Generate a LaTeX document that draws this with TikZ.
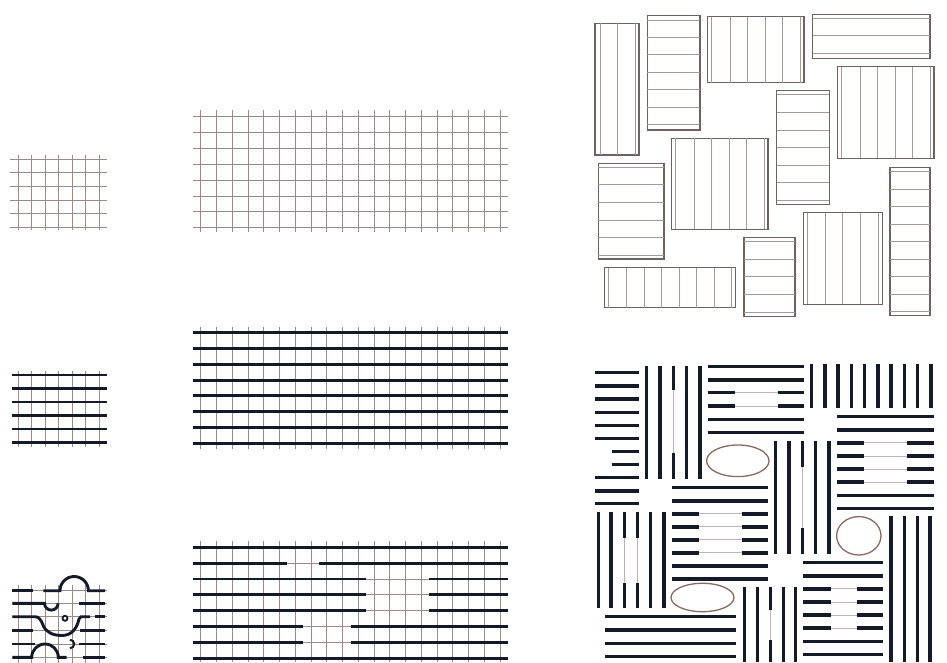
\documentclass[tikz,border=0pt]{standalone}
\usetikzlibrary{calc}
\definecolor{gridc}{RGB}{155,138,136}
\definecolor{barc}{RGB}{20,26,40}
\definecolor{rectc}{RGB}{112,98,96}
\definecolor{innerc}{RGB}{165,152,150}
\definecolor{connc}{RGB}{185,179,177}
\definecolor{ellc}{RGB}{135,105,95}
\tikzset{
  gridln/.style={draw=gridc,line width=0.9pt},
  bar/.style={draw=barc,line width=2.9pt},
  bigbar/.style={draw=barc,line width=3.5pt},
  conn/.style={draw=connc,line width=1pt},
  plank/.style={draw=rectc,line width=1.4pt},
  inner/.style={draw=innerc,line width=1pt},
  ell/.style={draw=ellc,line width=1.3pt}
}
\begin{document}
\begin{tikzpicture}[x=1pt,y=-1pt]
\useasboundingbox (0,0) rectangle (947,663);
% ---------- small grids (left column) ----------
% panel 1
\foreach \i in {0,...,6} \draw[gridln] ({18.3+13.5*\i},155) -- ({18.3+13.5*\i},229.5);
\foreach \j in {0,...,5} \draw[gridln] (10,{159.3+13.6*\j}) -- (107,{159.3+13.6*\j});
% panel 3
\foreach \i in {0,...,6} \draw[gridln] ({18.3+13.5*\i},371) -- ({18.3+13.5*\i},447);
\foreach \j in {0,...,5} \draw[bar] (11.7,{375+13.5*\j}) -- (106.7,{375+13.5*\j});
% panel 5
\foreach \i in {0,...,6} \draw[gridln] ({18.3+13.5*\i},585) -- ({18.3+13.5*\i},663);
\foreach \y in {590.7,603.3,616.7,630.7,644,657.3} \draw[gridln] (11.7,\y) -- (106.7,\y);
\draw[bar] (12.3,590.7) -- (33.3,590.7);
\draw[bar] (43.3,590.7) -- (60,590.7) arc(180:360:14.2) -- (105,590.7);
\draw[bar] (12.3,603.3) -- (44.5,603.3) arc(180:0:6.8);
\draw[bar] (79,603.3) -- (105,603.3);
\draw[bar] (12.3,616.7) -- (35,616.7) .. controls (39,616.7) and (41,620) .. (43,625)
  .. controls (46,633) and (54,635.5) .. (62,635.5)
  .. controls (72,635.5) and (77,628) .. (79,619)
  .. controls (79.5,617) .. (81,616.7) -- (90,616.7);
\draw[bar] (95,616.7) -- (105,616.7);
\draw[draw=barc,line width=1.8pt] (65,618.3) circle (2.5);
\draw[bar] (12.3,630.7) -- (33.3,630.7);
\draw[bar] (80,630.7) -- (105,630.7);
\draw[bar] (12.3,644) -- (35,644);
\draw[draw=barc,line width=2pt] (70,639.8) arc(270:450:4.2);
\draw[bar] (79,644) -- (105,644);
\draw[bar] (12.3,657.3) -- (31.7,657.3) arc(180:360:13.3) -- (66.7,657.3);
\draw[bar] (83.3,657.3) -- (105,657.3);
% ---------- wide grids (middle column) ----------
% panel 2
\foreach \i in {0,...,19} \draw[gridln] ({200.7+15.75*\i},110) -- ({200.7+15.75*\i},231.7);
\foreach \j in {0,...,7} \draw[gridln] (193.3,{116.7+15.86*\j}) -- (508.3,{116.7+15.86*\j});
% panel 4
\foreach \i in {0,...,19} \draw[gridln] ({200.7+15.75*\i},327) -- ({200.7+15.75*\i},448.5);
\foreach \j in {0,...,7} \draw[bar] (193.3,{332.7+15.8*\j}) -- (508.3,{332.7+15.8*\j});
% panel 6
\foreach \i in {0,...,19} \draw[gridln] ({200.7+15.75*\i},541) -- ({200.7+15.75*\i},661.5);
\foreach \j in {0,...,7} \draw[gridln] (193.3,{547.3+15.86*\j}) -- (508.3,{547.3+15.86*\j});
\draw[bar] (193.3,547.3) -- (508.3,547.3);
\draw[bar] (193.3,563.2) -- (287.3,563.2);
\draw[bar] (319.3,563.2) -- (508.3,563.2);
\foreach \y in {579,594.9,610.7} {
  \draw[bar] (193.3,\y) -- (365.7,\y);
  \draw[bar] (429.3,\y) -- (508.3,\y);
}
\foreach \y in {626.6,642.5} {
  \draw[bar] (193.3,\y) -- (303.3,\y);
  \draw[bar] (350.7,\y) -- (508.3,\y);
}
\draw[bar] (193.3,658.3) -- (508.3,658.3);
% ---------- planks (top right) ----------
\draw[plank] (595,23.3) rectangle (639,155);
\foreach \x in {600,617.3,635} \draw[inner] (\x,23.3) -- (\x,155);
\draw[plank] (647.3,15.7) rectangle (700,130);
\foreach \y in {20.7,37.7,55,72.7,90,107.3,125} \draw[inner] (647.3,\y) -- (700,\y);
\draw[plank] (707.7,16.7) rectangle (804,82.7);
\foreach \x in {711,730,747.7,765,782.7,800} \draw[inner] (\x,16.7) -- (\x,82.7);
\draw[plank] (812.7,14.3) rectangle (930,58.3);
\foreach \y in {19,36,53.3} \draw[inner] (812.7,\y) -- (930,\y);
\draw[plank] (837.3,66.7) rectangle (934,158.3);
\foreach \x in {841.7,860,877.7,895,912.7,930} \draw[inner] (\x,66.7) -- (\x,158.3);
\draw[plank] (776.7,90.7) rectangle (829.3,204.3);
\foreach \y in {95,112.6,130.2,147.8,165.4,183,200.6} \draw[inner] (776.7,\y) -- (829.3,\y);
\draw[plank] (671.7,138.3) rectangle (768,229.3);
\foreach \x in {675.7,694,711.7,729,746.7,764.3} \draw[inner] (\x,138.3) -- (\x,229.3);
\draw[plank] (598.3,163.3) rectangle (664,259);
\foreach \y in {167.3,184.3,202.3,220,237.3,255} \draw[inner] (598.3,\y) -- (664,\y);
\draw[plank] (604.3,267.7) rectangle (735.7,307.7);
\foreach \x in {608.3,626.7,644,661.7,679,696.7,714.3,731.7} \draw[inner] (\x,267.7) -- (\x,307.7);
\draw[plank] (744,237.7) rectangle (795,316.7);
\foreach \y in {241.7,259.3,276.7,294.3,312.3} \draw[inner] (744,\y) -- (795,\y);
\draw[plank] (803.3,212.7) rectangle (882.7,304.3);
\foreach \x in {807.7,825,842.7,860.7,878.3} \draw[inner] (\x,212.7) -- (\x,304.3);
\draw[plank] (890,167.3) rectangle (930,315.7);
\foreach \y in {171.7,189.3,206.7,224,241.7,259,276,294,311.7} \draw[inner] (890,\y) -- (930,\y);
% ---------- bars (bottom right) ----------
% group A
\foreach \y in {372.3,386,399,412.3,425.7,438.3,477.7,491,503.3} \draw[bigbar] (595,\y) -- (639,\y);
\foreach \y in {451.3,464.6} \draw[bigbar] (611.5,\y) -- (639,\y);
% group B
\foreach \x in {646.7,660,686.7,700} \draw[bigbar] (\x,365.7) -- (\x,479);
\draw[conn] (673.3,390) -- (673.3,453.3);
\draw[bigbar] (673.3,365.7) -- (673.3,390);
\draw[bigbar] (673.3,453.3) -- (673.3,479);
% group C
\foreach \y in {366.7,380,419.3,432.3} \draw[bigbar] (707.7,\y) -- (804,\y);
\foreach \y in {392.7,406} {
  \draw[conn] (735,\y) -- (777.7,\y);
  \draw[bigbar] (707.7,\y) -- (735,\y);
  \draw[bigbar] (777.7,\y) -- (804,\y);
}
% group D
\foreach \i in {0,...,9} \draw[bigbar] ({811.7+13.25*\i},364.3) -- ({811.7+13.25*\i},408.3);
% group E
\foreach \j in {0,1,6,7} \draw[bigbar] (837.3,{416.7+13.1*\j}) -- (934,{416.7+13.1*\j});
\foreach \j in {2,...,5} {
  \draw[conn] (864.3,{416.7+13.1*\j}) -- (907.3,{416.7+13.1*\j});
  \draw[bigbar] (837.3,{416.7+13.1*\j}) -- (864.3,{416.7+13.1*\j});
  \draw[bigbar] (907.3,{416.7+13.1*\j}) -- (934,{416.7+13.1*\j});
}
% group F
\foreach \x in {775.7,789,815.7,829} \draw[bigbar] (\x,441) -- (\x,554.3);
\draw[conn] (802.3,466.7) -- (802.3,527.7);
\draw[bigbar] (802.3,441) -- (802.3,466.7);
\draw[bigbar] (802.3,527.7) -- (802.3,554.3);
% group G
\foreach \j in {0,1,6,7} \draw[bigbar] (672.3,{487.7+13.05*\j}) -- (768.3,{487.7+13.05*\j});
\foreach \j in {2,...,5} {
  \draw[conn] (699,{487.7+13.05*\j}) -- (741.7,{487.7+13.05*\j});
  \draw[bigbar] (672.3,{487.7+13.05*\j}) -- (699,{487.7+13.05*\j});
  \draw[bigbar] (741.7,{487.7+13.05*\j}) -- (768.3,{487.7+13.05*\j});
}
% group H
\foreach \x in {598.3,611,650.7,664} \draw[bigbar] (\x,512.3) -- (\x,608.3);
\foreach \x in {624.3,637.3} {
  \draw[conn] (\x,538.3) -- (\x,583.3);
  \draw[bigbar] (\x,512.3) -- (\x,538.3);
  \draw[bigbar] (\x,583.3) -- (\x,608.3);
}
% group I
\foreach \y in {616.7,630,643.3,656.7} \draw[bigbar] (605,\y) -- (735.7,\y);
% group J
\foreach \x in {744.3,757.7,783.3,795.7} \draw[bigbar] (\x,586.7) -- (\x,662);
\draw[conn] (770.7,610) -- (770.7,640);
\draw[bigbar] (770.7,586.7) -- (770.7,610);
\draw[bigbar] (770.7,640) -- (770.7,662);
% group K
\foreach \j in {0,1,6,7} \draw[bigbar] (803.3,{562.7+13.1*\j}) -- (882.7,{562.7+13.1*\j});
\foreach \j in {2,...,5} {
  \draw[conn] (831,{562.7+13.1*\j}) -- (856.7,{562.7+13.1*\j});
  \draw[bigbar] (803.3,{562.7+13.1*\j}) -- (831,{562.7+13.1*\j});
  \draw[bigbar] (856.7,{562.7+13.1*\j}) -- (882.7,{562.7+13.1*\j});
}
% group L
\foreach \x in {891,904.3,917.7,930} \draw[bigbar] (\x,515.7) -- (\x,662);
% ellipses
\draw[ell] (737.8,460.8) ellipse [x radius=31.2, y radius=15.8];
\draw[ell] (702.5,597.5) ellipse [x radius=31.5, y radius=14.2];
\draw[ell] (858.8,535.8) ellipse [x radius=22.2, y radius=19.2];
\end{tikzpicture}
\end{document}
